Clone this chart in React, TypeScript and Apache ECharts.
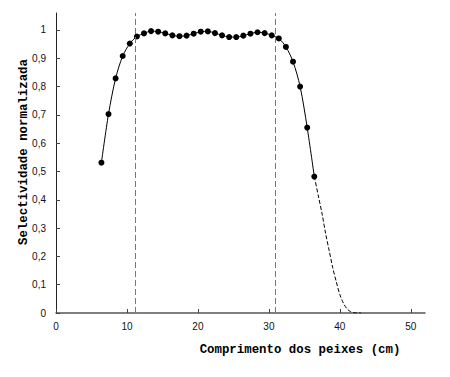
import React, { useEffect, useRef } from "react";
import * as echarts from "echarts";

const lengths = [6.4, 7.4, 8.4, 9.4, 10.4, 11.4, 12.4, 13.4, 14.4, 15.4, 16.4, 17.4, 18.4, 19.4, 20.4, 21.4, 22.4, 23.4, 24.4, 25.4, 26.4, 27.4, 28.4, 29.4, 30.4, 31.4, 32.4, 33.4, 34.4, 35.4, 36.4];
const selectivity = [0.531, 0.703, 0.829, 0.908, 0.952, 0.977, 0.988, 0.996, 0.994, 0.988, 0.981, 0.978, 0.98, 0.987, 0.994, 0.995, 0.989, 0.981, 0.975, 0.975, 0.98, 0.987, 0.992, 0.989, 0.981, 0.97, 0.94, 0.888, 0.8, 0.655, 0.482];
const extLengths = [36.4, 37, 37.5, 38, 38.5, 39, 39.5, 40, 40.5, 41, 41.5, 42, 42.5, 43];
const extSelectivity = [0.482, 0.41, 0.35, 0.28, 0.22, 0.16, 0.11, 0.065, 0.035, 0.015, 0.005, 0.001, 0, 0];
const cutoffs = [11.1, 30.9];
const xTicks = [0, 10, 20, 30, 40, 50];
const yTicks = [0, 0.1, 0.2, 0.3, 0.4, 0.5, 0.6, 0.7, 0.8, 0.9, 1];
const xTitle = "Comprimento dos peixes (cm)";
const yTitle = "Selectividade normalizada";

export default function App() {
  const ref = useRef<HTMLDivElement>(null);
  useEffect(() => {
    document.body.style.margin = "0";
    const chart = echarts.init(ref.current!, null, { renderer: "svg" });
    const tickFont = { fontFamily: "Liberation Sans, Arial, sans-serif", fontSize: 10, color: "#111" };
    chart.setOption({
      animation: false,
      backgroundColor: "#fff",
      grid: { left: 56, right: 25, top: 13, bottom: 64 },
      xAxis: {
        type: "value",
        min: 0,
        max: 52,
        axisLine: { show: true, lineStyle: { color: "#555", width: 1.5 } },
        axisTick: { show: true, inside: true, length: 4, customValues: xTicks, lineStyle: { color: "#444" } },
        axisLabel: { ...tickFont, margin: 8, customValues: xTicks },
        splitLine: { show: false },
      },
      yAxis: {
        type: "value",
        min: 0,
        max: 1.06,
        axisLine: { show: true, lineStyle: { color: "#222", width: 1 } },
        axisTick: { show: true, inside: true, length: 4, customValues: yTicks, lineStyle: { color: "#444" } },
        axisLabel: {
          ...tickFont,
          margin: 10,
          customValues: yTicks,
          formatter: (v: number) => (v === 0 ? "0" : v === 1 ? "1" : String(v).replace(".", ",")),
        },
        splitLine: { show: false },
      },
      graphic: [
        {
          type: "text",
          x: 300,
          y: 350,
          style: {
            text: xTitle,
            textAlign: "center",
            textVerticalAlign: "middle",
            font: "bold 12.4px 'Liberation Mono', 'DejaVu Sans Mono', monospace",
            fill: "#000",
          },
        },
        {
          type: "text",
          x: 24,
          y: 152,
          rotation: Math.PI / 2,
          style: {
            text: yTitle,
            textAlign: "center",
            textVerticalAlign: "middle",
            font: "bold 12.4px 'Liberation Mono', 'DejaVu Sans Mono', monospace",
            fill: "#000",
          },
        },
      ],
      series: [
        {
          type: "line",
          data: lengths.map((x, i) => [x, selectivity[i]]),
          smooth: 0.3,
          symbol: "circle",
          symbolSize: 6,
          itemStyle: { color: "#000" },
          lineStyle: { color: "#000", width: 1 },
          z: 3,
          markLine: {
            silent: true,
            symbol: "none",
            label: { show: false },
            lineStyle: { color: "#777", width: 1, type: [6, 3] },
            data: cutoffs.map((c) => ({ xAxis: c })),
          },
        },
        {
          type: "line",
          data: extLengths.map((x, i) => [x, extSelectivity[i]]),
          smooth: 0.3,
          showSymbol: false,
          symbol: "none",
          lineStyle: { color: "#000", width: 1, type: [4, 2] },
          z: 2,
        },
      ],
    });
    return () => chart.dispose();
  }, []);
  return <div ref={ref} style={{ width: 450, height: 377 }} />;
}
